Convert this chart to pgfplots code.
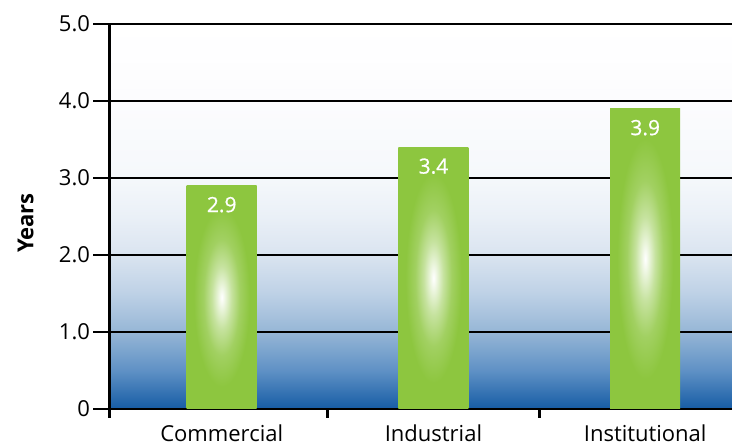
\documentclass[border=0pt]{standalone}
\usepackage{pgfplots}
\pgfplotsset{compat=1.18}
\usepackage{fontspec}
\setmainfont{Open Sans}
\newfontfamily\semib{Open Sans}[FakeBold=0.8]
\definecolor{barg}{RGB}{141,198,63}
\definecolor{bg0}{RGB}{22,92,165}
\definecolor{bg05}{RGB}{95,145,197}
\definecolor{bg1}{RGB}{150,182,214}
\definecolor{bg15}{RGB}{190,209,230}
\definecolor{bg2}{RGB}{218,228,240}
\definecolor{bg25}{RGB}{234,240,247}
\definecolor{bg3}{RGB}{245,248,251}
\definecolor{bg4}{RGB}{252,252,254}
\pgfdeclareverticalshading{bgshade}{100bp}{color(0bp)=(bg0); color(25bp)=(bg0); color(30bp)=(bg05); color(35bp)=(bg1); color(40bp)=(bg15); color(45bp)=(bg2); color(50bp)=(bg25); color(55bp)=(bg3); color(65bp)=(bg4); color(75bp)=(white); color(100bp)=(white)}
\pgfdeclareradialshading{barglow}{\pgfpoint{0bp}{0bp}}{color(0bp)=(white); color(1.5bp)=(white!90!barg); color(7bp)=(white!50!barg); color(13bp)=(white!18!barg); color(20bp)=(barg); color(25bp)=(barg); color(50bp)=(barg)}
\pgfplotsset{glowbar/.style={ybar, bar width=70pt, bar shift=0pt, draw=none, shade, shading=barglow}}
\begin{document}
\begin{tikzpicture}
\begin{axis}[
  name=ax,
  scale only axis,
  width=622.5pt, height=385pt,
  xmin=-0.53, xmax=2.41,
  ymin=0, ymax=5,
  axis lines*=left,
  axis line style={black, line width=2.5pt},
  axis background/.style={shade, shading=bgshade},
  ytick={0,1,2,3,4,5},
  yticklabels={0,1.0,2.0,3.0,4.0,5.0},
  xtick={0,1,2},
  xticklabels={Commercial,Industrial,Institutional},
  minor xtick={-0.53,0.5,1.5},
  tick align=outside,
  major tick length=16pt,
  minor tick length=9pt,
  every major x tick/.style={draw=none},
  tick style={black, line width=2.5pt},
  ymajorgrids,
  major grid style={black, line width=2pt},
  ticklabel style={font=\fontsize{22}{26}\selectfont},
  xticklabel style={yshift=4pt},
  ylabel={\bfseries Years},
  ylabel style={font=\fontsize{22}{26}\selectfont, at={(rel axis cs:0,0.483)}, anchor=base, yshift=76pt},
  clip=false,
]
\addplot[glowbar] coordinates {(0,2.9)};
\addplot[glowbar] coordinates {(1,3.4)};
\addplot[glowbar] coordinates {(2,3.9)};
\addplot[draw=none, mark=none, nodes near coords, point meta=explicit symbolic,
  every node near coord/.append style={font=\semib\fontsize{21}{25}\selectfont, text=white, anchor=north, yshift=-11pt, inner sep=0pt}]
  coordinates {(0,2.9) [2.9] (1,3.4) [3.4] (2,3.9) [3.9]};
\end{axis}
\pgfresetboundingbox
\useasboundingbox ([xshift=-109.5pt,yshift=-39pt]ax.south west) rectangle ([yshift=24pt]ax.north east);
\end{tikzpicture}
\end{document}
